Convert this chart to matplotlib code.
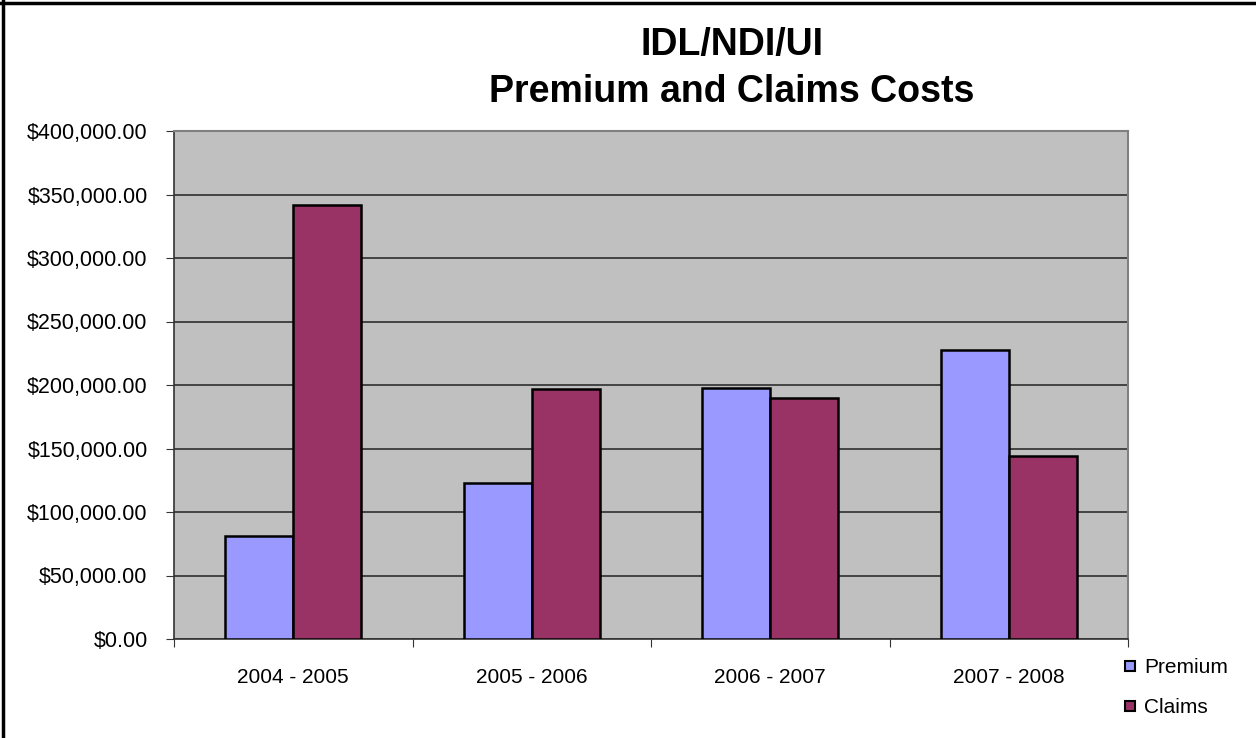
import numpy as np
import matplotlib.pyplot as plt
from matplotlib.lines import Line2D
from matplotlib.ticker import FuncFormatter

plt.rcParams['font.family'] = ['Liberation Sans', 'DejaVu Sans']

# data
years = ['2004 - 2005', '2005 - 2006', '2006 - 2007', '2007 - 2008']
premium = [81300, 122700, 197600, 227500]
claims = [341600, 196500, 190100, 144000]

W, H = 1256, 738
fig = plt.figure(figsize=(W / 100, H / 100), dpi=100)
ax = fig.add_axes([174 / W, 1 - 639 / H, (1128 - 174) / W, (639 - 131) / H])
ax.set_facecolor('#C0C0C0')

x = np.arange(len(years))
bw = 0.285
ax.bar(x - bw / 2, premium, bw, color='#9999FF', edgecolor='black', linewidth=1.8, zorder=3, label='Premium')
ax.bar(x + bw / 2, claims, bw, color='#993366', edgecolor='black', linewidth=1.8, zorder=3, label='Claims')

ax.set_xlim(-0.5, len(years) - 0.5)
ax.set_ylim(0, 400000)
ax.set_yticks(np.arange(0, 400001, 50000))
ax.yaxis.set_major_formatter(FuncFormatter(lambda v, p: '${:,.2f}'.format(v)))
ax.yaxis.grid(True, color='#222222', linewidth=1.1, zorder=1)
ax.set_axisbelow(True)

# category labels centred, tick marks on the boundaries
ax.set_xticks(np.arange(-0.5, len(years)), minor=False)
ax.set_xticklabels([])
ax.set_xticks(x, minor=True)
ax.set_xticklabels(years, minor=True, fontsize=15)
ax.tick_params(axis='x', which='minor', length=0, pad=21)
ax.tick_params(axis='x', which='major', length=5.5, color='#333333', direction='out')
ax.tick_params(axis='y', length=6, color='#333333', labelsize=15.5, pad=13)

for s in ['top', 'right']:
    ax.spines[s].set_color('#808080')
    ax.spines[s].set_linewidth(1.5)
for s in ['left', 'bottom']:
    ax.spines[s].set_color('#333333')
    ax.spines[s].set_linewidth(1.2)

fig.text(732 / W, 1 - 45 / H, 'IDL/NDI/UI', ha='center', va='center', fontsize=27, fontweight='bold')
fig.text(732 / W, 1 - 92 / H, 'Premium and Claims Costs', ha='center', va='center', fontsize=27, fontweight='bold')

handles = [Line2D([], [], marker='s', linestyle='none', markersize=7.5, markerfacecolor=c,
                  markeredgecolor='black', markeredgewidth=1.5) for c in ['#9999FF', '#993366']]
fig.legend(handles, ['Premium', 'Claims'], loc='upper left', bbox_to_anchor=(1122 / W, 1 - 658 / H),
           frameon=False, fontsize=15, handlelength=0.8, handletextpad=0.25, labelspacing=1.0,
           borderpad=0, borderaxespad=0)

# black frame on top and left edges
fig.add_artist(Line2D([0, 1], [1 - 2.5 / H, 1 - 2.5 / H], color='black', linewidth=2.5, transform=fig.transFigure))
fig.add_artist(Line2D([3.5 / W, 3.5 / W], [0, 1], color='black', linewidth=2.5, transform=fig.transFigure))

fig.savefig('out.png', dpi=100)
